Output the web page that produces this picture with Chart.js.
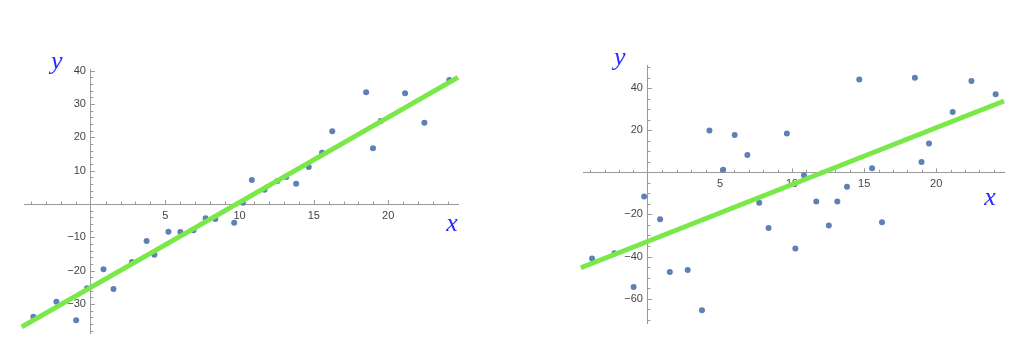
<!DOCTYPE html>
<html>
<head>
<meta charset="utf-8">
<script src="https://cdn.jsdelivr.net/npm/chart.js@4/dist/chart.umd.min.js"></script>
<style>
html,body{margin:0;padding:0;background:#fff}
#wrap{position:relative;width:1024px;height:352px}
.box{position:absolute;top:0;width:512px;height:352px}
</style>
</head>
<body>
<div id="wrap">
<div class="box" style="left:0"><canvas id="left"></canvas></div>
<div class="box" style="left:512px"><canvas id="right"></canvas></div>
</div>
<script>
// shared x values, two y series
const xs = [-3.87,-2.32,-0.99,-0.26,0.85,1.52,2.76,3.75,4.27,5.22,6.02,6.9,7.72,8.37,9.64,10.23,10.83,11.68,12.55,13.14,13.81,14.66,15.55,16.24,18.52,18.98,19.5,21.14,22.44,24.12]
const ys1 = [-33.8,-29.3,-34.9,-25.3,-19.6,-25.5,-17.4,-11.1,-15.2,-8.3,-8.4,-7.9,-4.3,-4.5,-5.6,0.4,7.2,4.3,6.9,8.1,6.1,11.1,15.4,21.8,33.5,16.7,24.9,33.2,24.4,37.2]
const ys2 = [-40.9,-38.4,-54.5,-11.5,-22.3,-47.4,-46.4,-65.6,19.9,1.2,17.7,8.2,-14.5,-26.5,18.5,-36.2,-1.4,-13.9,-25.3,-13.9,-6.8,44.1,1.9,-23.7,45.0,4.9,13.7,28.7,43.4,37.1]

// fitted lines: [intercept, slope]
const fit1 = [-25, 2.55]
const fit2 = [-32.8, 2.7]
const fitXs = [-4.65, 24.7]

const xTicks = [5,10,15,20]
const y1Ticks = [-30,-20,-10,10,20,30,40]
const y2Ticks = [-60,-40,-20,20,40]

const axisColor = "#9a9a9a"
const labelColor = "#444"
const labelFont = "11px 'Liberation Sans', Arial, sans-serif"
const dotColor = "#5e81b5"
const lineColor = "#7be84a"

function fmt(v){
return v<0 ? "\u2212"+Math.abs(v) : String(v)
}

const axisDecor = {
id:"axisDecor",
beforeDatasetsDraw(chart,args,opts){
const ctx = chart.ctx
const sx = chart.scales.x
const sy = chart.scales.y
const x0 = sx.getPixelForValue(0)
const y0 = sy.getPixelForValue(0)
ctx.save()
ctx.strokeStyle = axisColor
ctx.lineWidth = 1
ctx.beginPath()
for(let v=Math.ceil(sx.min); v<=sx.max; v+=opts.xStep){
if(v===0) continue
let px = Math.round(sx.getPixelForValue(v))+0.5
let len = v%opts.xMajor===0 ? 4 : 2.5
ctx.moveTo(px,y0)
ctx.lineTo(px,y0-len)
}
for(let v=Math.ceil(sy.min/opts.yStep)*opts.yStep; v<=sy.max; v+=opts.yStep){
if(v===0) continue
let py = Math.round(sy.getPixelForValue(v))+0.5
let len = v%opts.yMajor===0 ? 4 : 2.5
ctx.moveTo(x0,py)
ctx.lineTo(x0+len,py)
}
ctx.stroke()

// y tick labels, left of the axis
ctx.fillStyle = labelColor
ctx.font = labelFont
ctx.textAlign = "right"
ctx.textBaseline = "middle"
opts.yLabels.forEach(v=>{
ctx.fillText(fmt(v), x0-5, sy.getPixelForValue(v))
})
ctx.restore()
},
afterDraw(chart,args,opts){
const ctx = chart.ctx
const a = chart.chartArea
const sy = chart.scales.y
const sx = chart.scales.x
ctx.save()
ctx.fillStyle = "#2a2aff"
ctx.font = "italic 26px 'Liberation Serif', serif"
ctx.textAlign = "center"
ctx.textBaseline = "middle"
ctx.fillText("y", sx.getPixelForValue(0)+opts.yName[0], a.top+opts.yName[1])
ctx.fillText("x", a.right+opts.xName[0], sy.getPixelForValue(0)+opts.xName[1])
ctx.restore()
}
}

function makeChart(id, ys, fit, yMin, yMax, yTicks, pad, deco){

let pts = xs.map((x,i)=>({x:x,y:ys[i]}))
let line = fitXs.map(x=>({x:x,y:fit[0]+fit[1]*x}))
deco.yLabels = yTicks

return new Chart(document.getElementById(id),{
type:"scatter",
data:{
datasets:[
{
type:"line",
data:line,
borderColor:lineColor,
borderWidth:5,
pointRadius:0,
clip:false,
order:0
},
{
data:pts,
backgroundColor:dotColor,
borderWidth:0,
pointRadius:3,
order:1
}
]
},
options:{
responsive:true,
maintainAspectRatio:false,
animation:false,
layout:{padding:pad},
plugins:{
legend:{display:false},
tooltip:{enabled:false},
axisDecor:deco
},
scales:{
x:{
type:"linear",
min:-4.5,
max:24.7,
position:{y:0},
afterBuildTicks:s=>{ s.ticks = xTicks.map(v=>({value:v})) },
grid:{display:false,drawTicks:false},
border:{display:true,color:axisColor,width:1},
ticks:{color:labelColor,font:{size:11,family:"'Liberation Sans', Arial, sans-serif"},padding:5,maxRotation:0,callback:v=>fmt(v)}
},
y:{
type:"linear",
min:yMin,
max:yMax,
position:{x:0},
afterBuildTicks:s=>{ s.ticks = yTicks.map(v=>({value:v})) },
grid:{display:false,drawTicks:false},
border:{display:true,color:axisColor,width:1},
ticks:{display:false}
}
}
},
plugins:[axisDecor]
})

}

makeChart("left", ys1, fit1, -38.7, 40.5, y1Ticks,
{left:24,right:54,top:69,bottom:19},
{xStep:1,xMajor:5,yStep:2,yMajor:10,yName:[-34,-7],xName:[-6,20]})

makeChart("right", ys2, fit2, -71.6, 51, y2Ticks,
{left:71,right:20,top:65,bottom:29},
{xStep:1,xMajor:5,yStep:5,yMajor:20,yName:[-28,-7],xName:[-14,26]})
</script>
</body>
</html>
